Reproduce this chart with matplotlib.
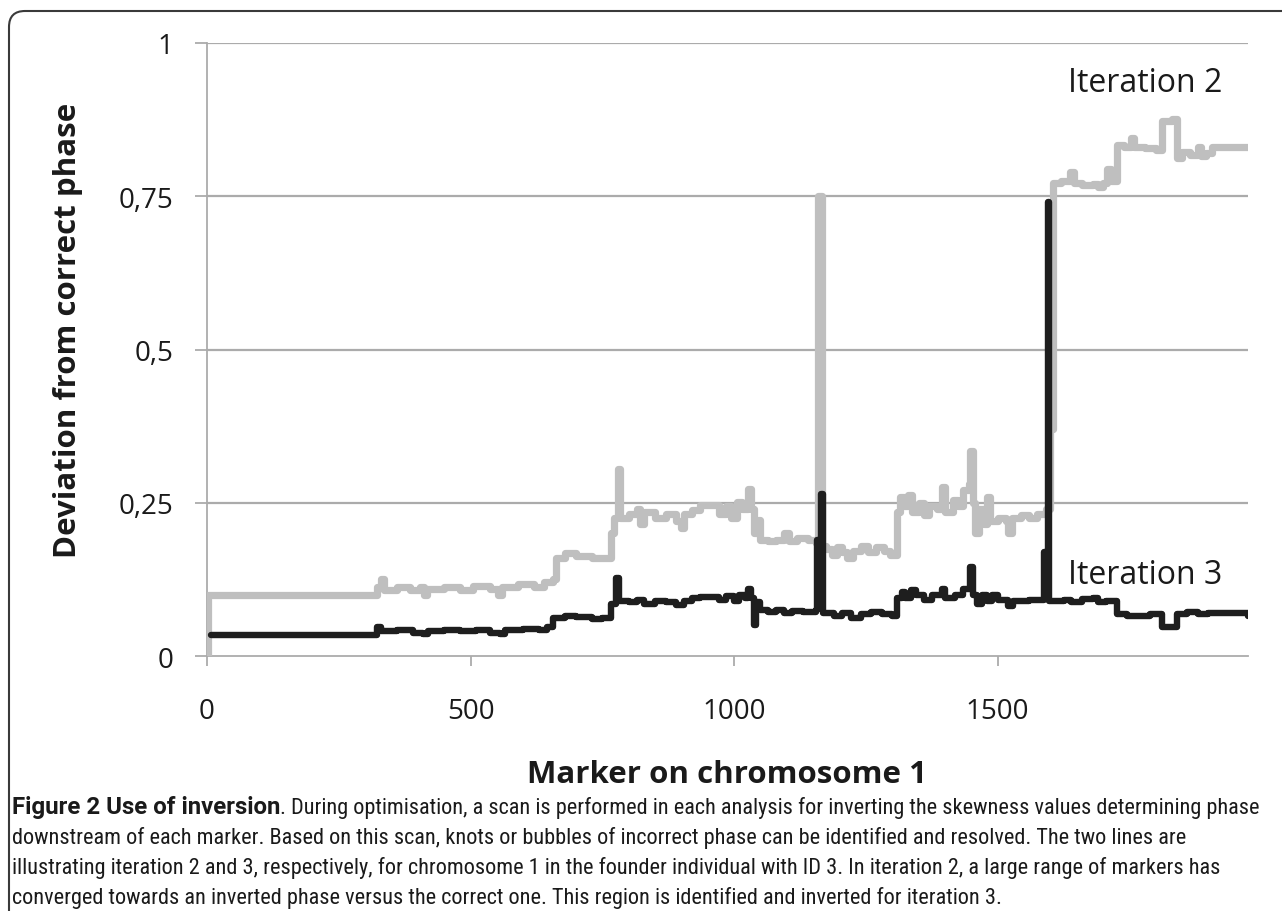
import matplotlib
matplotlib.use("Agg")
import matplotlib.pyplot as plt
from matplotlib import font_manager
from matplotlib.patches import FancyBboxPatch
from matplotlib.transforms import IdentityTransform

# ---------------- data (step breakpoints) ----------------
iter2_markers = [0, 2, 322, 330, 336, 360, 385, 405, 411, 418, 450, 480, 505, 537, 553, 560,
                 590, 620, 640, 657, 663, 680, 700, 730, 767, 772, 779, 783, 800, 815, 822,
                 830, 850, 870, 890, 900, 905, 920, 935, 972, 985, 995, 1005, 1015, 1026,
                 1032, 1037, 1045, 1050, 1065, 1080, 1095, 1105, 1120, 1140, 1156, 1160,
                 1166, 1174, 1185, 1195, 1205, 1215, 1225, 1240, 1255, 1270, 1285, 1295,
                 1310, 1315, 1322, 1330, 1338, 1350, 1360, 1370, 1385, 1395, 1400, 1415,
                 1425, 1435, 1445, 1448, 1454, 1458, 1465, 1475, 1480, 1486, 1500, 1515,
                 1520, 1527, 1545, 1560, 1575, 1591, 1599, 1605, 1620, 1638, 1645, 1660,
                 1680, 1690, 1700, 1708, 1715, 1727, 1740, 1753, 1758, 1780, 1800, 1812,
                 1830, 1841, 1850, 1865, 1880, 1885, 1895, 1907, 1975]
iter2_values = [0.0, 0.1, 0.112, 0.125, 0.108, 0.112, 0.107, 0.112, 0.099, 0.11, 0.113, 0.108,
                0.114, 0.11, 0.1, 0.112, 0.118, 0.113, 0.12, 0.125, 0.16, 0.168, 0.163, 0.16,
                0.2, 0.225, 0.305, 0.225, 0.232, 0.24, 0.215, 0.235, 0.225, 0.232, 0.22,
                0.208, 0.232, 0.238, 0.246, 0.232, 0.245, 0.225, 0.252, 0.24, 0.272, 0.24,
                0.2, 0.222, 0.19, 0.188, 0.19, 0.2, 0.188, 0.192, 0.19, 0.185, 0.75, 0.18,
                0.175, 0.165, 0.178, 0.17, 0.16, 0.172, 0.18, 0.17, 0.178, 0.172, 0.165,
                0.235, 0.26, 0.245, 0.262, 0.235, 0.25, 0.23, 0.245, 0.24, 0.275, 0.235,
                0.255, 0.245, 0.27, 0.28, 0.335, 0.25, 0.2, 0.24, 0.215, 0.26, 0.22, 0.225,
                0.22, 0.2, 0.225, 0.23, 0.225, 0.232, 0.24, 0.37, 0.772, 0.775, 0.79, 0.772,
                0.768, 0.77, 0.765, 0.772, 0.795, 0.775, 0.833, 0.83, 0.845, 0.83, 0.828,
                0.826, 0.872, 0.876, 0.812, 0.822, 0.818, 0.83, 0.815, 0.82, 0.83, 0.83]

iter3_markers = [7, 323, 330, 360, 390, 410, 420, 450, 480, 510, 537, 555, 565, 600, 630, 645,
                 657, 680, 700, 730, 750, 767, 776, 782, 800, 815, 830, 850, 870, 890, 905,
                 920, 935, 972, 985, 1000, 1010, 1020, 1026, 1032, 1038, 1042, 1050, 1065,
                 1080, 1095, 1110, 1130, 1155, 1157, 1164, 1168, 1190, 1205, 1222, 1240,
                 1260, 1280, 1300, 1310, 1318, 1325, 1335, 1345, 1360, 1375, 1395, 1400,
                 1420, 1435, 1448, 1454, 1460, 1470, 1480, 1490, 1500, 1520, 1530, 1560,
                 1588, 1591, 1596, 1598, 1625, 1640, 1660, 1680, 1690, 1705, 1727, 1745,
                 1770, 1790, 1812, 1841, 1860, 1880, 1900, 1975]
iter3_values = [0.035, 0.048, 0.04, 0.042, 0.038, 0.036, 0.04, 0.042, 0.04, 0.043, 0.038,
                0.036, 0.042, 0.044, 0.043, 0.047, 0.062, 0.066, 0.063, 0.06, 0.062, 0.085,
                0.128, 0.09, 0.088, 0.092, 0.085, 0.09, 0.088, 0.084, 0.09, 0.095, 0.097,
                0.092, 0.098, 0.09, 0.1, 0.095, 0.11, 0.095, 0.05, 0.088, 0.075, 0.072,
                0.075, 0.07, 0.074, 0.072, 0.075, 0.19, 0.265, 0.07, 0.065, 0.07, 0.062,
                0.068, 0.072, 0.068, 0.066, 0.095, 0.105, 0.095, 0.108, 0.1, 0.092, 0.1,
                0.11, 0.095, 0.1, 0.11, 0.145, 0.1, 0.085, 0.1, 0.09, 0.1, 0.092, 0.082,
                0.09, 0.092, 0.17, 0.095, 0.74, 0.09, 0.092, 0.088, 0.093, 0.095, 0.088,
                0.09, 0.068, 0.065, 0.066, 0.068, 0.047, 0.068, 0.072, 0.068, 0.07, 0.066]

series_labels = ["Iteration 2", "Iteration 3"]
x_ticks = [0, 500, 1000, 1500]
y_ticks = [0, 0.25, 0.5, 0.75, 1]
y_tick_labels = ["0", "0,25", "0,5", "0,75", "1"]
x_label = "Marker on chromosome 1"
y_label = "Deviation from correct phase"
caption_bold = "Figure 2 Use of inversion"
caption_lines = [
    ". During optimisation, a scan is performed in each analysis for inverting the skewness values determining phase",
    "downstream of each marker. Based on this scan, knots or bubbles of incorrect phase can be identified and resolved. The two lines are",
    "illustrating iteration 2 and 3, respectively, for chromosome 1 in the founder individual with ID 3. In iteration 2, a large range of markers has",
    "converged towards an inverted phase versus the correct one. This region is identified and inverted for iteration 3.",
]

# ---------------- fonts ----------------
ttf = font_manager.fontManager.ttflist
names = {f.name for f in ttf}
main_font = "Open Sans" if "Open Sans" in names else "DejaVu Sans"
cap_font = None
for cand in ["Roboto Condensed", "Open Sans Condensed", "Liberation Sans Narrow", "Arial Narrow"]:
    if cand in names:
        cap_font = cand
        break
if cap_font is None:
    cap_font = "Lato" if "Lato" in names else "DejaVu Sans"
bold_font = "Roboto" if "Roboto" in names else cap_font

W, H = 1282, 912
fig = plt.figure(figsize=(W / 100, H / 100), dpi=100)
fig.patch.set_facecolor("white")

# outer rounded frame
frame = FancyBboxPatch((9, -40), 1320, H - 12 + 40, boxstyle="round,pad=0,rounding_size=16",
                       transform=IdentityTransform(), fill=False, edgecolor="#3a3a3a", linewidth=1.5)
fig.add_artist(frame)

left, right, top, bottom = 207, 1248, 44, 657
ax = fig.add_axes([left / W, 1 - bottom / H, (right - left) / W, (bottom - top) / H])
ax.set_xlim(0, 1975)
ax.set_ylim(0, 1)

grid_col = "#ABABAB"
for yv in y_ticks[1:]:
    ax.axhline(yv, color=grid_col, lw=1.6, zorder=1)

ax.plot(iter2_markers, iter2_values, drawstyle="steps-post", color="#BFBFBF", lw=5.2,
        solid_joinstyle="round", solid_capstyle="round", zorder=3)
ax.plot(iter3_markers, iter3_values, drawstyle="steps-post", color="#1E1E1E", lw=4.6,
        solid_joinstyle="round", solid_capstyle="round", zorder=4)

for s in ["top", "right"]:
    ax.spines[s].set_visible(False)
for s in ["left", "bottom"]:
    ax.spines[s].set_color(grid_col)
    ax.spines[s].set_linewidth(1.3)

ax.set_xticks(x_ticks)
ax.set_xticklabels([str(v) for v in x_ticks])
ax.set_yticks(y_ticks)
ax.set_yticklabels(y_tick_labels)
ax.tick_params(axis="both", colors=grid_col, labelcolor="#1a1a1a", width=1.3,
               labelsize=20)
ax.tick_params(axis="y", length=9, pad=15)
ax.tick_params(axis="x", length=7.5, pad=22)
for lab in ax.get_xticklabels() + ax.get_yticklabels():
    lab.set_fontfamily(main_font)

# series labels
fig.text(1222 / W, 1 - 83 / H, series_labels[0], ha="right", va="center",
         fontsize=23, family=main_font, color="#1a1a1a")
fig.text(1222 / W, 1 - 576 / H, series_labels[1], ha="right", va="center",
         fontsize=23, family=main_font, color="#1a1a1a")

# axis titles
fig.text(68 / W, 1 - 330 / H, y_label, rotation=90, ha="center", va="center",
         fontsize=22.5, fontweight="bold", family=main_font, color="#1a1a1a")
fig.text(727 / W, 1 - 775 / H, x_label, ha="center", va="center",
         fontsize=22.5, fontweight="bold", family=main_font, color="#1a1a1a")

# caption: regular size fitted so line 3 spans its reference width, bold run fitted too
renderer = fig.canvas.get_renderer()
probe = 15.0
tr = fig.text(0, 0, caption_lines[2], fontsize=probe, family=cap_font)
tb = fig.text(0, 0, caption_bold, fontsize=probe, fontweight="bold", family=bold_font)
w_reg = tr.get_window_extent(renderer).width
w_bold = tb.get_window_extent(renderer).width
tr.remove()
tb.remove()
cap_size = probe * (1180 - 12) / w_reg * 1.035
bold_size = probe * (283 - 12) / w_bold

base_y = 814
bold_t = fig.text(12 / W, 1 - base_y / H, caption_bold, ha="left", va="baseline",
                  fontsize=bold_size, fontweight="bold", family=bold_font, color="#1a1a1a")
bb = bold_t.get_window_extent(renderer)
fig.text(bb.x1 / W, 1 - base_y / H, caption_lines[0], ha="left", va="baseline",
         fontsize=cap_size, family=cap_font, color="#1a1a1a")
for i, line in enumerate(caption_lines[1:], start=1):
    fig.text(12 / W, 1 - (base_y + 30 * i) / H, line, ha="left", va="baseline",
             fontsize=cap_size, family=cap_font, color="#1a1a1a")

fig.savefig("out.png", dpi=100, facecolor="white")
